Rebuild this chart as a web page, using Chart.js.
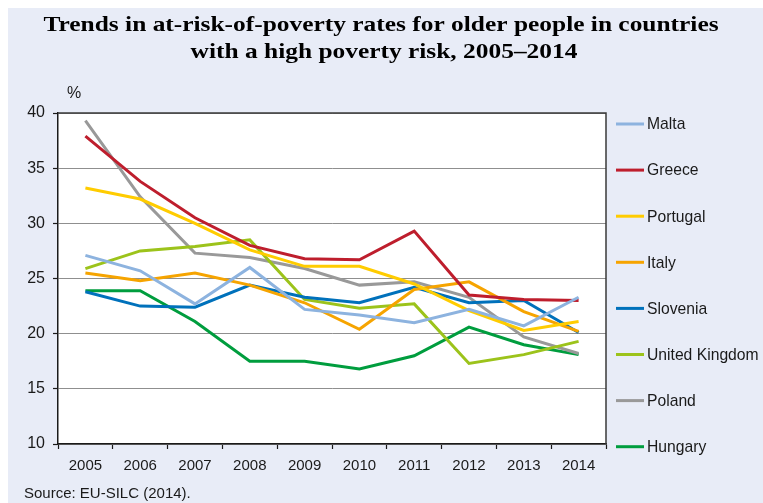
<!DOCTYPE html>
<html>
<head>
<meta charset="utf-8">
<script src="https://cdn.jsdelivr.net/npm/chart.js@4.4.1/dist/chart.umd.min.js"></script>
<style>
  html, body { margin: 0; padding: 0; background: #fff; }
  #wrap { width: 763px; height: 503px; }
</style>
</head>
<body>
<div id="wrap"><canvas id="myChart" width="763" height="503"></canvas></div>
<script>
const years = ["2005", "2006", "2007", "2008", "2009", "2010", "2011", "2012", "2013", "2014"];

const malta    = [27.1, 25.7, 22.7, 26.0, 22.2, 21.7, 21.0, 22.2, 20.7, 23.3];
const greece   = [37.9, 33.8, 30.5, 28.0, 26.8, 26.7, 29.3, 23.5, 23.1, 23.0];
const portugal = [33.2, 32.2, 30.0, 27.6, 26.1, 26.1, 24.5, 22.1, 20.3, 21.1];
const italy    = [25.5, 24.8, 25.5, 24.4, 22.8, 20.4, 24.0, 24.7, 22.0, 20.2];
const slovenia = [23.8, 22.5, 22.4, 24.4, 23.3, 22.8, 24.2, 22.8, 23.0, 20.1];
const uk       = [25.9, 27.5, 27.9, 28.5, 23.1, 22.3, 22.7, 17.3, 18.1, 19.3];
const poland   = [39.3, 32.4, 27.3, 26.9, 25.9, 24.4, 24.7, 23.3, 19.7, 18.2];
const hungary  = [23.9, 23.9, 21.1, 17.5, 17.5, 16.8, 18.0, 20.6, 19.0, 18.1];

const yTicks = [10, 15, 20, 25, 30, 35, 40];

const titleLines = [
  "Trends in at-risk-of-poverty rates for older people in countries",
  "with a high poverty risk, 2005\u20132014"
];
const unitLabel = "%";
const sourceNote = "Source: EU-SILC (2014).";

const series = [
  { label: "Malta", data: malta, color: "#8db3df" },
  { label: "Greece", data: greece, color: "#be1e2d" },
  { label: "Portugal", data: portugal, color: "#ffcc00" },
  { label: "Italy", data: italy, color: "#f6a400" },
  { label: "Slovenia", data: slovenia, color: "#0071bb" },
  { label: "United Kingdom", data: uk, color: "#9cc31b" },
  { label: "Poland", data: poland, color: "#999999" },
  { label: "Hungary", data: hungary, color: "#009d3e" }
];

const PANEL = "#e8ecf7";
const INK = "#1a1a1a";
const SANS = "'Liberation Sans', Arial, sans-serif";

// panel background, white plot area, frame, title, unit, source, legend
const decorations = {
  id: "decorations",
  beforeDraw(chart) {
    const { ctx, chartArea: a } = chart;
    ctx.save();
    ctx.fillStyle = "#ffffff";
    ctx.fillRect(0, 0, chart.width, chart.height);
    ctx.fillStyle = PANEL;
    ctx.fillRect(8, 8, chart.width - 8, chart.height - 8);
    ctx.fillStyle = "#ffffff";
    ctx.fillRect(a.left, a.top, a.right - a.left, a.bottom - a.top);
    ctx.restore();
  },
  afterDraw(chart) {
    const { ctx, chartArea: a } = chart;
    ctx.save();

    // top and right frame
    ctx.strokeStyle = "#3a3a3a";
    ctx.lineWidth = 1.5;
    ctx.beginPath();
    ctx.moveTo(a.left, a.top);
    ctx.lineTo(a.right, a.top);
    ctx.lineTo(a.right, a.bottom);
    ctx.stroke();

    // title, set a little wider than the plain serif face
    ctx.fillStyle = "#000";
    ctx.font = "bold 22px 'Liberation Serif', 'Times New Roman', serif";
    ctx.textAlign = "center";
    ctx.textBaseline = "alphabetic";
    const sx = 1.155;
    ctx.save();
    ctx.scale(sx, 1);
    ctx.fillText(titleLines[0], 381 / sx, 31);
    ctx.fillText(titleLines[1], 384 / sx, 58);
    ctx.restore();

    // unit and source
    ctx.fillStyle = INK;
    ctx.font = "16px " + SANS;
    ctx.textAlign = "left";
    ctx.textBaseline = "middle";
    ctx.fillText(unitLabel, 67, 94);
    ctx.font = "15px " + SANS;
    ctx.fillText(sourceNote, 24, 494);

    // legend
    ctx.font = "15.7px " + SANS;
    chart.data.datasets.forEach((ds, i) => {
      const y = 124 + i * 46.1;
      ctx.strokeStyle = ds.borderColor;
      ctx.lineWidth = 3;
      ctx.beginPath();
      ctx.moveTo(616, y);
      ctx.lineTo(644, y);
      ctx.stroke();
      ctx.fillStyle = INK;
      ctx.fillText(ds.label, 647, y + 1);
    });
    ctx.restore();
  }
};

const ctx = document.getElementById("myChart");

new Chart(ctx, {
  type: "line",
  data: {
    labels: years,
    datasets: series.map(s => ({
      label: s.label,
      data: s.data,
      borderColor: s.color,
      backgroundColor: s.color,
      borderWidth: 3,
      pointRadius: 0,
      tension: 0,
      fill: false
    }))
  },
  options: {
    responsive: false,
    animation: false,
    layout: { padding: { left: 0, top: 113, right: 157, bottom: 29 } },
    plugins: {
      legend: { display: false },
      title: { display: false },
      tooltip: { enabled: false }
    },
    scales: {
      x: {
        offset: true,
        afterFit: scale => { scale.height = 30; },
        grid: {
          offset: true,
          drawOnChartArea: false,
          drawTicks: true,
          tickLength: 5,
          tickColor: INK,
          tickWidth: 1.2
        },
        border: { display: true, color: INK, width: 1.5 },
        ticks: {
          color: INK,
          font: { family: SANS, size: 15 },
          padding: 8,
          maxRotation: 0
        }
      },
      y: {
        min: yTicks[0],
        max: yTicks[yTicks.length - 1],
        afterFit: scale => { scale.width = 58; },
        afterBuildTicks: scale => { scale.ticks = yTicks.map(v => ({ value: v })); },
        grid: {
          color: "#8f8f8f",
          lineWidth: 1,
          drawTicks: true,
          tickLength: 5,
          tickColor: INK,
          tickWidth: 1.2
        },
        border: { display: true, color: INK, width: 1.5 },
        ticks: {
          color: INK,
          font: { family: SANS, size: 16 },
          padding: 8
        }
      }
    }
  },
  plugins: [decorations]
});
</script>
</body>
</html>
